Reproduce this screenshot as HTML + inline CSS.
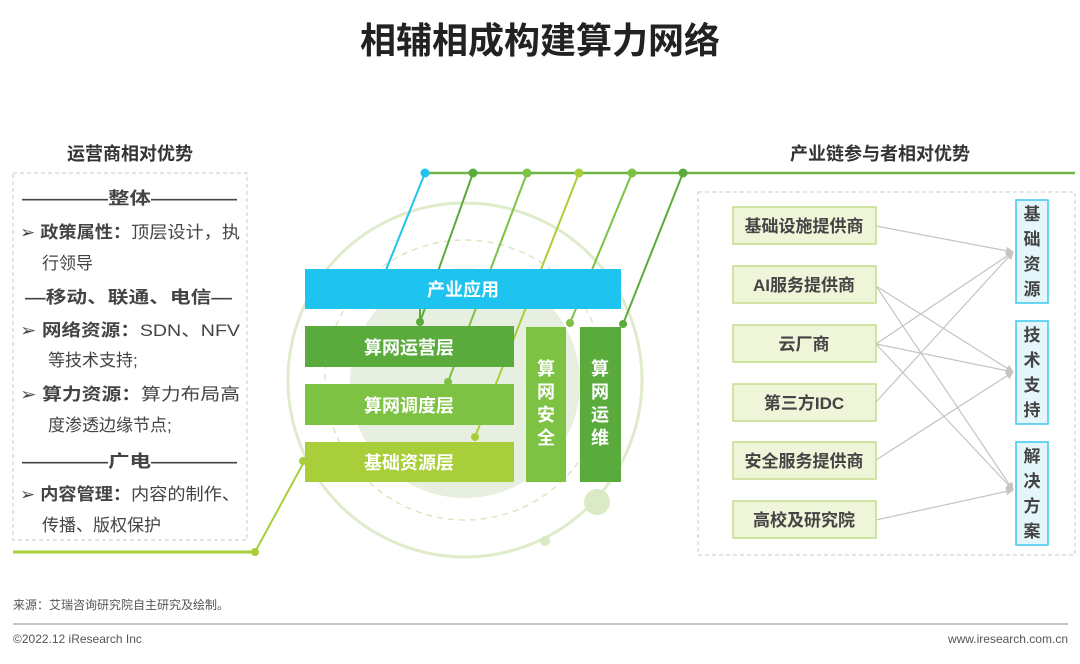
<!DOCTYPE html>
<html><head><meta charset="utf-8"><style>
body{margin:0;width:1080px;height:659px;background:#fff;overflow:hidden;font-family:"Liberation Sans","Noto Sans CJK SC",sans-serif}
svg text{font-family:"Liberation Sans","Noto Sans CJK SC",sans-serif}
</style></head><body>
<svg width="1080" height="659" viewBox="0 0 1080 659" xmlns="http://www.w3.org/2000/svg">
<defs><marker id="ar" markerWidth="8" markerHeight="8" refX="7" refY="4" orient="auto" markerUnits="userSpaceOnUse"><path d="M0,0 L8,4 L0,8 Z" fill="#c4c4c4"/></marker></defs>
<text x="540" y="53" text-anchor="middle" font-size="36" font-weight="bold" fill="#222">相辅相成构建算力网络</text>
<text x="130" y="160" text-anchor="middle" font-size="18" font-weight="bold" fill="#333">运营商相对优势</text>
<text x="880" y="160" text-anchor="middle" font-size="18" font-weight="bold" fill="#333">产业链参与者相对优势</text>
<!-- circles -->
<circle cx="465" cy="380" r="177" fill="none" stroke="#dfeccc" stroke-width="3"/>
<circle cx="465" cy="380" r="140" fill="none" stroke="#d8e8c0" stroke-width="1.5" stroke-dasharray="6 5"/>
<circle cx="465" cy="383" r="115" fill="#e6efe0"/>
<circle cx="597" cy="502" r="13" fill="#d9eac4"/>
<circle cx="545" cy="541" r="5" fill="#d9eac4"/>
<!-- left box -->
<rect x="13" y="173" width="234" height="367" fill="none" stroke="#c8c8c8" stroke-dasharray="4 3"/>
<g font-size="17" fill="#444">
<text x="22" y="204" textLength="215" lengthAdjust="spacingAndGlyphs" font-weight="bold">————整体————</text>
<text x="20" y="238" textLength="220" lengthAdjust="spacingAndGlyphs">➢ <tspan font-weight="bold">政策属性：</tspan>顶层设计，执</text>
<text x="42" y="269">行领导</text>
<text x="25" y="303" textLength="207" lengthAdjust="spacingAndGlyphs" font-weight="bold">—移动、联通、电信—</text>
<text x="20" y="336" textLength="220" lengthAdjust="spacingAndGlyphs">➢  <tspan font-weight="bold">网络资源：</tspan>SDN、NFV</text>
<text x="48" y="366">等技术支持;</text>
<text x="20" y="400" textLength="220" lengthAdjust="spacingAndGlyphs">➢  <tspan font-weight="bold">算力资源：</tspan>算力布局高</text>
<text x="48" y="431">度渗透边缘节点;</text>
<text x="22" y="467" textLength="215" lengthAdjust="spacingAndGlyphs" font-weight="bold">————广电————</text>
<text x="20" y="500" textLength="220" lengthAdjust="spacingAndGlyphs">➢ <tspan font-weight="bold">内容管理：</tspan>内容的制作、</text>
<text x="42" y="531">传播、版权保护</text>
</g>
<!-- lines -->
<line x1="13" y1="552" x2="255" y2="552" stroke="#a8cf3a" stroke-width="3"/>
<line x1="255" y1="552" x2="305" y2="460" stroke="#a8cf3a" stroke-width="2"/>
<circle cx="255" cy="552" r="4" fill="#a8cf3a"/>
<line x1="425" y1="173" x2="1075" y2="173" stroke="#6db544" stroke-width="2.5"/>
<line x1="425" y1="173" x2="386" y2="270" stroke="#1ec4ef" stroke-width="2"/>
<line x1="473" y1="173" x2="420" y2="322" stroke="#5aab3c" stroke-width="2"/>
<line x1="527" y1="173" x2="448" y2="382" stroke="#7dc242" stroke-width="2"/>
<line x1="579" y1="173" x2="475" y2="437" stroke="#a8cf3a" stroke-width="2"/>
<line x1="632" y1="173" x2="570" y2="323" stroke="#7dc242" stroke-width="2"/>
<line x1="683" y1="173" x2="623" y2="324" stroke="#5aab3c" stroke-width="2"/>
<circle cx="425" cy="173" r="4.5" fill="#1ec4ef"/>
<circle cx="473" cy="173" r="4.5" fill="#5aab3c"/>
<circle cx="527" cy="173" r="4.5" fill="#7dc242"/>
<circle cx="579" cy="173" r="4.5" fill="#a8cf3a"/>
<circle cx="632" cy="173" r="4.5" fill="#7dc242"/>
<circle cx="683" cy="173" r="4.5" fill="#5aab3c"/>
<!-- layers -->
<rect x="305" y="269" width="316" height="40" fill="#1ec4ef"/>
<text x="463" y="296" text-anchor="middle" font-size="18" font-weight="bold" fill="#fff">产业应用</text>
<rect x="305" y="326" width="209" height="41" fill="#5aab3c"/>
<text x="409" y="354" text-anchor="middle" font-size="18" font-weight="bold" fill="#fff">算网运营层</text>
<rect x="305" y="384" width="209" height="41" fill="#7dc242"/>
<text x="409" y="412" text-anchor="middle" font-size="18" font-weight="bold" fill="#fff">算网调度层</text>
<rect x="305" y="442" width="209" height="40" fill="#a8cf3a"/>
<text x="409" y="469" text-anchor="middle" font-size="18" font-weight="bold" fill="#fff">基础资源层</text>
<rect x="526" y="327" width="40" height="155" fill="#7dc242"/>
<rect x="580" y="327" width="41" height="155" fill="#5aab3c"/>
<g font-size="18" font-weight="bold" fill="#fff" text-anchor="middle">
<text x="546" y="375">算</text><text x="546" y="398">网</text><text x="546" y="421">安</text><text x="546" y="444">全</text>
<text x="600" y="375">算</text><text x="600" y="398">网</text><text x="600" y="421">运</text><text x="600" y="444">维</text>
</g>
<line x1="420" y1="309" x2="420" y2="322" stroke="#5aab3c" stroke-width="2"/>
<circle cx="420" cy="322" r="4" fill="#5aab3c"/>
<circle cx="448" cy="382" r="4" fill="#7dc242"/>
<circle cx="475" cy="437" r="4" fill="#a8cf3a"/>
<circle cx="570" cy="323" r="4" fill="#7dc242"/>
<circle cx="623" cy="324" r="4" fill="#5aab3c"/>
<circle cx="303" cy="461" r="4" fill="#a8cf3a"/>
<!-- right -->
<rect x="698" y="192" width="377" height="363" fill="none" stroke="#c8c8c8" stroke-dasharray="4 3"/>
<g stroke="#c4c4c4" stroke-width="1.2" marker-end="url(#ar)">
<line x1="876" y1="226" x2="1013" y2="252"/>
<line x1="876" y1="286" x2="1013" y2="372"/>
<line x1="876" y1="286" x2="1013" y2="490"/>
<line x1="876" y1="344" x2="1013" y2="252"/>
<line x1="876" y1="344" x2="1013" y2="372"/>
<line x1="876" y1="344" x2="1013" y2="490"/>
<line x1="876" y1="402" x2="1013" y2="252"/>
<line x1="876" y1="460" x2="1013" y2="372"/>
<line x1="876" y1="520" x2="1013" y2="490"/>
</g>
<g fill="#eef5d8" stroke="#c5dd8a" stroke-width="1.5">
<rect x="733" y="207" width="143" height="37"/><rect x="733" y="266" width="143" height="37"/>
<rect x="733" y="325" width="143" height="37"/><rect x="733" y="384" width="143" height="37"/>
<rect x="733" y="442" width="143" height="37"/><rect x="733" y="501" width="143" height="37"/>
</g>
<g font-size="17" font-weight="bold" fill="#444" text-anchor="middle">
<text x="804" y="232">基础设施提供商</text><text x="804" y="291">AI服务提供商</text>
<text x="804" y="350">云厂商</text><text x="804" y="409">第三方IDC</text>
<text x="804" y="467">安全服务提供商</text><text x="804" y="526">高校及研究院</text>
</g>
<g fill="#e4f6fb" stroke="#3cc8ec" stroke-width="1.5">
<rect x="1016" y="200" width="32" height="103"/><rect x="1016" y="321" width="32" height="103"/><rect x="1016" y="442" width="32" height="103"/>
</g>
<g font-size="17" font-weight="bold" fill="#444" text-anchor="middle">
<text x="1032" y="220">基</text><text x="1032" y="245">础</text><text x="1032" y="270">资</text><text x="1032" y="295">源</text>
<text x="1032" y="341">技</text><text x="1032" y="366">术</text><text x="1032" y="391">支</text><text x="1032" y="416">持</text>
<text x="1032" y="462">解</text><text x="1032" y="487">决</text><text x="1032" y="512">方</text><text x="1032" y="537">案</text>
</g>
<!-- footer -->
<text x="13" y="609" font-size="12" fill="#555">来源：艾瑞咨询研究院自主研究及绘制。</text>
<line x1="13" y1="624" x2="1068" y2="624" stroke="#b0b0b0" stroke-width="1.5"/>
<text x="13" y="643" font-size="12" fill="#555">©2022.12 iResearch Inc</text>
<text x="1068" y="643" font-size="12" fill="#555" text-anchor="end">www.iresearch.com.cn</text>
</svg>
</body></html>
